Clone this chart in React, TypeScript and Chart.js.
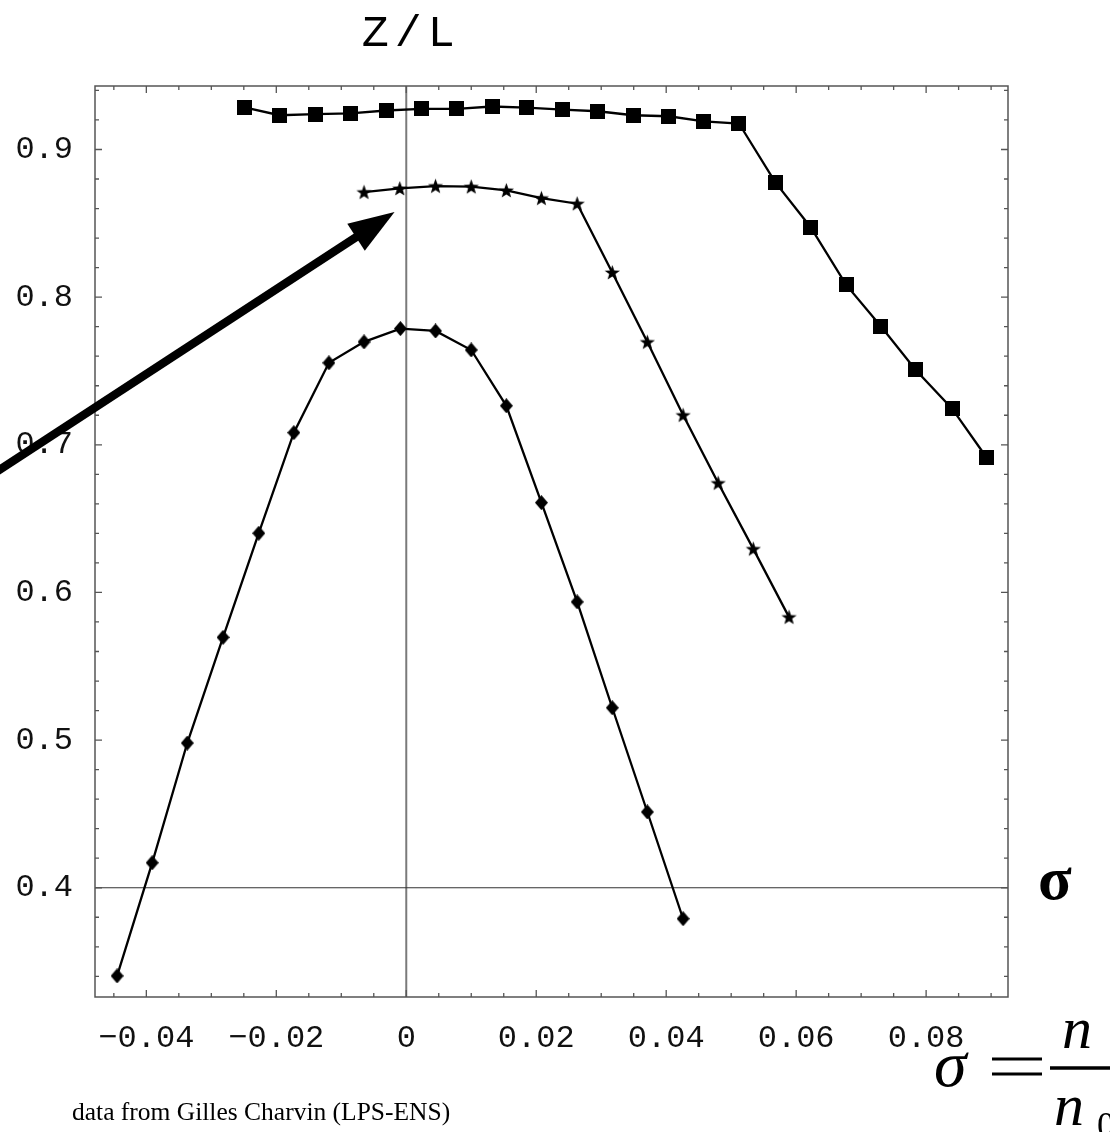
import React, { useEffect, useRef } from "react";
import { Chart, registerables } from "chart.js";

Chart.register(...registerables);

// ---- data ----
const squareX = [-0.0249, -0.0195, -0.0140, -0.0086, -0.0031, 0.0023, 0.0078, 0.0132, 0.0185, 0.0241, 0.0295, 0.0349, 0.0404, 0.0458, 0.0512, 0.0568, 0.0622, 0.0677, 0.0730, 0.0784, 0.0840, 0.0893];
const squareY = [0.9286, 0.9232, 0.9239, 0.9245, 0.9264, 0.9275, 0.9275, 0.9291, 0.9284, 0.9270, 0.9259, 0.9232, 0.9225, 0.9191, 0.9176, 0.8777, 0.8475, 0.8083, 0.7804, 0.7507, 0.7245, 0.6914];

const starX = [-0.0065, -0.0010, 0.0045, 0.0100, 0.0154, 0.0208, 0.0263, 0.0317, 0.0371, 0.0426, 0.0480, 0.0534, 0.0589];
const starY = [0.8711, 0.8736, 0.8752, 0.8748, 0.8723, 0.8670, 0.8633, 0.8167, 0.7696, 0.7201, 0.6741, 0.6295, 0.5833];

const diamondX = [-0.0445, -0.0391, -0.0337, -0.0282, -0.0227, -0.0173, -0.0119, -0.0065, -0.0009, 0.0045, 0.0100, 0.0154, 0.0208, 0.0263, 0.0317, 0.0371, 0.0426];
const diamondY = [0.3403, 0.4169, 0.4980, 0.5696, 0.6401, 0.7082, 0.7555, 0.7697, 0.7787, 0.7771, 0.7642, 0.7264, 0.6608, 0.5936, 0.5219, 0.4513, 0.3790];

const xTickValues = [-0.04, -0.02, 0, 0.02, 0.04, 0.06, 0.08];
const xTickLabels = ["\u22120.04", "\u22120.02", "0", "0.02", "0.04", "0.06", "0.08"];
const yTickValues = [0.4, 0.5, 0.6, 0.7, 0.8, 0.9];
const yTickLabels = ["0.4", "0.5", "0.6", "0.7", "0.8", "0.9"];

const xMin = -0.0479;
const xMax = 0.0926;
const yMin = 0.326;
const yMax = 0.943;
const xMinorStep = 0.005;
const yMinorStep = 0.02;

// arrow annotation (data coordinates): start, tip
const arrowStart = { x: -0.064, y: 0.679 };
const arrowTip = { x: -0.0018, y: 0.8576 };

const titleText = "Z/L";
const axisSymbol = "\u03c3";
const creditText = "data from Gilles Charvin (LPS-ENS)";

function makeMarker(kind: string): HTMLCanvasElement {
  const c = document.createElement("canvas");
  const ctx = c.getContext("2d")!;
  if (kind === "square") {
    c.width = 15; c.height = 15;
    ctx.fillStyle = "#000";
    ctx.fillRect(0, 0, 15, 15);
  } else if (kind === "star") {
    c.width = 17; c.height = 17;
    ctx.fillStyle = "#000";
    ctx.beginPath();
    const cx = 8.5, cy = 9.1, R = 8, r = 3.3;
    for (let i = 0; i < 10; i++) {
      const a = -Math.PI / 2 + (i * Math.PI) / 5;
      const rr = i % 2 === 0 ? R : r;
      const px = cx + rr * Math.cos(a);
      const py = cy + rr * Math.sin(a);
      if (i === 0) ctx.moveTo(px, py); else ctx.lineTo(px, py);
    }
    ctx.closePath();
    ctx.fill();
  } else {
    c.width = 13; c.height = 15;
    ctx.fillStyle = "#000";
    ctx.beginPath();
    ctx.moveTo(6.5, 0);
    ctx.lineTo(13, 7.5);
    ctx.lineTo(6.5, 15);
    ctx.lineTo(0, 7.5);
    ctx.closePath();
    ctx.fill();
  }
  return c;
}

const framePlugin = {
  id: "mmaFrame",
  afterDraw(chart: any) {
    const { ctx, chartArea: a, scales } = chart;
    const xs = scales.x, ys = scales.y;
    ctx.save();
    const x0 = xs.getPixelForValue(0);
    const y0 = ys.getPixelForValue(0.4);

    // frame
    ctx.strokeStyle = "#555";
    ctx.lineWidth = 1.5;
    ctx.strokeRect(a.left, a.top, a.right - a.left, a.bottom - a.top);

    // ticks
    ctx.lineWidth = 1.3;
    const near = (v: number, step: number) => Math.abs(v / step - Math.round(v / step)) < 1e-6;
    for (let k = Math.ceil(xMin / xMinorStep); k * xMinorStep <= xMax + 1e-9; k++) {
      const v = k * xMinorStep;
      const px = xs.getPixelForValue(v);
      const len = near(v, 0.02) ? 7 : 4;
      ctx.beginPath();
      ctx.moveTo(px, a.bottom); ctx.lineTo(px, a.bottom - len);
      ctx.moveTo(px, a.top); ctx.lineTo(px, a.top + len);
      ctx.stroke();
    }
    for (let k = Math.ceil(yMin / yMinorStep); k * yMinorStep <= yMax + 1e-9; k++) {
      const v = k * yMinorStep;
      const py = ys.getPixelForValue(v);
      const len = near(v, 0.1) ? 7 : 4;
      ctx.beginPath();
      ctx.moveTo(a.left, py); ctx.lineTo(a.left + len, py);
      ctx.moveTo(a.right, py); ctx.lineTo(a.right - len, py);
      ctx.stroke();
    }

    // arrow
    const sx = xs.getPixelForValue(arrowStart.x), sy = ys.getPixelForValue(arrowStart.y);
    const tx = xs.getPixelForValue(arrowTip.x), ty = ys.getPixelForValue(arrowTip.y);
    const ang = Math.atan2(ty - sy, tx - sx);
    const headLen = 46, headHalf = 16;
    const bx = tx - headLen * Math.cos(ang), by = ty - headLen * Math.sin(ang);
    ctx.strokeStyle = "#000";
    ctx.lineWidth = 8.5;
    ctx.lineCap = "butt";
    ctx.beginPath();
    ctx.moveTo(sx, sy);
    ctx.lineTo(bx + 4 * Math.cos(ang), by + 4 * Math.sin(ang));
    ctx.stroke();
    ctx.fillStyle = "#000";
    ctx.beginPath();
    ctx.moveTo(tx, ty);
    ctx.lineTo(bx + headHalf * Math.sin(ang), by - headHalf * Math.cos(ang));
    ctx.lineTo(bx - headHalf * Math.sin(ang), by + headHalf * Math.cos(ang));
    ctx.closePath();
    ctx.fill();

    // title Z/L above the vertical axis
    ctx.fillStyle = "#000";
    ctx.font = "45px 'Liberation Mono'";
    (ctx as any).letterSpacing = "6px";
    ctx.textAlign = "center";
    ctx.textBaseline = "alphabetic";
    ctx.fillText(titleText, x0 + 5, 46);
    (ctx as any).letterSpacing = "0px";

    // sigma label at right of horizontal axis
    ctx.font = "bold 62px 'Liberation Serif'";
    ctx.textAlign = "left";
    ctx.fillText(axisSymbol, a.right + 30, y0 + 11);

    // formula sigma = n / n0
    ctx.font = "italic 66px 'Liberation Serif'";
    ctx.fillText(axisSymbol, 934, 1086);
    ctx.lineWidth = 3;
    ctx.beginPath();
    ctx.moveTo(992, 1059); ctx.lineTo(1042, 1059);
    ctx.moveTo(992, 1074); ctx.lineTo(1042, 1074);
    ctx.stroke();
    ctx.lineWidth = 3.5;
    ctx.beginPath();
    ctx.moveTo(1050, 1068);
    ctx.lineTo(1112, 1068);
    ctx.stroke();
    ctx.font = "italic 60px 'Liberation Serif'";
    ctx.fillText("n", 1062, 1048);
    ctx.fillText("n", 1054, 1125);
    ctx.font = "36px 'Liberation Serif'";
    ctx.fillText("0", 1097, 1137);

    // credit
    ctx.font = "25.5px 'Liberation Serif'";
    ctx.fillText(creditText, 72, 1120);
    ctx.restore();
  },
};

const axesLinesPlugin = {
  id: "mmaAxes",
  beforeDatasetsDraw(chart: any) {
    const { ctx, chartArea: a, scales } = chart;
    const x0 = scales.x.getPixelForValue(0);
    const y0 = scales.y.getPixelForValue(0.4);
    ctx.save();
    ctx.strokeStyle = "#7a7a7a";
    ctx.lineWidth = 2;
    ctx.beginPath();
    ctx.moveTo(x0, a.top);
    ctx.lineTo(x0, a.bottom);
    ctx.stroke();
    ctx.strokeStyle = "#333";
    ctx.lineWidth = 1.2;
    ctx.beginPath();
    ctx.moveTo(a.left, y0);
    ctx.lineTo(a.right, y0);
    ctx.stroke();
    ctx.restore();
  },
};

export default function App() {
  const ref = useRef<HTMLCanvasElement | null>(null);
  useEffect(() => {
    if (!ref.current) return;
    const sq = makeMarker("square");
    const st = makeMarker("star");
    const dm = makeMarker("diamond");
    const toPts = (xs: number[], ys: number[]) => xs.map((x, i) => ({ x, y: ys[i] }));
    const base = {
      showLine: true,
      borderColor: "#000",
      backgroundColor: "#000",
      borderWidth: 2.3,
      pointRadius: 7,
      pointHoverRadius: 7,
      tension: 0,
    };
    const chart = new Chart(ref.current, {
      type: "scatter",
      data: {
        datasets: [
          { ...base, data: toPts(squareX, squareY), pointStyle: sq },
          { ...base, data: toPts(starX, starY), pointStyle: st },
          { ...base, data: toPts(diamondX, diamondY), pointStyle: dm },
        ],
      } as any,
      options: {
        animation: false,
        responsive: false,
        maintainAspectRatio: false,
        events: [],
        layout: { padding: { top: 86, right: 102, left: 0, bottom: 0 } },
        plugins: { legend: { display: false }, tooltip: { enabled: false }, title: { display: false } },
        scales: {
          x: {
            type: "linear",
            min: xMin,
            max: xMax,
            afterFit: (s: any) => { s.height = 135; },
            afterBuildTicks: (s: any) => { s.ticks = xTickValues.map((v) => ({ value: v })); },
            grid: { display: false, drawTicks: false },
            border: { display: false },
            ticks: {
              autoSkip: false,
              maxRotation: 0,
              padding: 22,
              color: "#111",
              font: { family: "'Liberation Mono'", size: 32 },
              callback: (v: any) => {
                const i = xTickValues.findIndex((t) => Math.abs(t - Number(v)) < 1e-9);
                return i >= 0 ? xTickLabels[i] : "";
              },
            },
          },
          y: {
            type: "linear",
            min: yMin,
            max: yMax,
            afterFit: (s: any) => { s.width = 95; },
            afterBuildTicks: (s: any) => { s.ticks = yTickValues.map((v) => ({ value: v })); },
            grid: { display: false, drawTicks: false },
            border: { display: false },
            ticks: {
              autoSkip: false,
              padding: 22,
              color: "#111",
              font: { family: "'Liberation Mono'", size: 32 },
              callback: (v: any) => {
                const i = yTickValues.findIndex((t) => Math.abs(t - Number(v)) < 1e-9);
                return i >= 0 ? yTickLabels[i] : "";
              },
            },
          },
        },
      } as any,
      plugins: [axesLinesPlugin, framePlugin],
    });
    return () => chart.destroy();
  }, []);
  return (
    <div style={{ position: "absolute", left: 0, top: 0, width: 1110, height: 1132, background: "#fff" }}>
      <canvas ref={ref} width={1110} height={1132} style={{ display: "block", width: 1110, height: 1132 }} />
    </div>
  );
}
